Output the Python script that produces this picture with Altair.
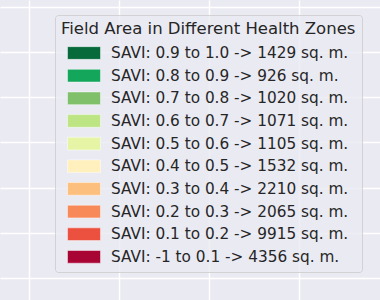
import altair as alt
import pandas as pd

legend_title = "Field Area in Different Health Zones"
zone_labels = [
    "SAVI: 0.9 to 1.0 -> 1429 sq. m.",
    "SAVI: 0.8 to 0.9 -> 926 sq. m.",
    "SAVI: 0.7 to 0.8 -> 1020 sq. m.",
    "SAVI: 0.6 to 0.7 -> 1071 sq. m.",
    "SAVI: 0.5 to 0.6 -> 1105 sq. m.",
    "SAVI: 0.4 to 0.5 -> 1532 sq. m.",
    "SAVI: 0.3 to 0.4 -> 2210 sq. m.",
    "SAVI: 0.2 to 0.3 -> 2065 sq. m.",
    "SAVI: 0.1 to 0.2 -> 9915 sq. m.",
    "SAVI: -1 to 0.1 -> 4356 sq. m.",
]
zone_colors = [
    "#066a3a", "#14a75c", "#80c06b", "#bde584", "#e6f4a6",
    "#fff0be", "#fdbf7d", "#f88a5a", "#ec503e", "#a80535",
]
x_grid = [0, 1, 2, 3, 4]
y_grid = [0, 1, 2, 3, 4, 5, 6]

df = pd.DataFrame({"zone": zone_labels, "x": [0] * len(zone_labels), "y": [0] * len(zone_labels)})

axis_common = dict(labels=False, ticks=False, domain=False, grid=True,
                   gridColor="#ffffff", gridWidth=1.4, gridOpacity=1, title=None)

chart = alt.Chart(df).mark_point(filled=True, opacity=0).encode(
    x=alt.X("x:Q", scale=alt.Scale(domain=[-29 / 90, 351 / 90], nice=False, zero=False),
            axis=alt.Axis(values=x_grid, **axis_common)),
    y=alt.Y("y:Q", scale=alt.Scale(domain=[-0.4948, 6.1615], nice=False, zero=False),
            axis=alt.Axis(values=y_grid, **axis_common)),
    color=alt.Color("zone:N", scale=alt.Scale(domain=zone_labels, range=zone_colors),
                    legend=alt.Legend(
                        title=legend_title,
                        orient="none", legendX=55, legendY=15,
                        padding=6,
                        fillColor="rgba(234,234,242,0.8)",
                        strokeColor="rgba(204,204,204,0.8)",
                        cornerRadius=3,
                        titleFont="DejaVu Sans", titleFontSize=16.5, titleFontWeight="normal",
                        titleColor="#262626", titleLimit=400, titlePadding=6.5,
                        labelFont="DejaVu Sans", labelFontSize=15.3, labelColor="#262626",
                        labelLimit=400, labelOffset=10,
                        symbolType="M-1,-0.385H1V0.385H-1Z", symbolSize=1089,
                        symbolOpacity=1, symbolStrokeColor="rgba(255,255,255,0.45)",
                        symbolStrokeWidth=1, symbolOffset=6,
                        clipHeight=18, rowPadding=4.65,
                    )),
).properties(
    width=380, height=300, padding=0,
    autosize=alt.AutoSizeParams(type="none"),
    background="#eaeaf2",
).configure_view(fill="#eaeaf2", stroke=None)

chart.save("out.html", embed_options={"renderer": "svg", "actions": False})
